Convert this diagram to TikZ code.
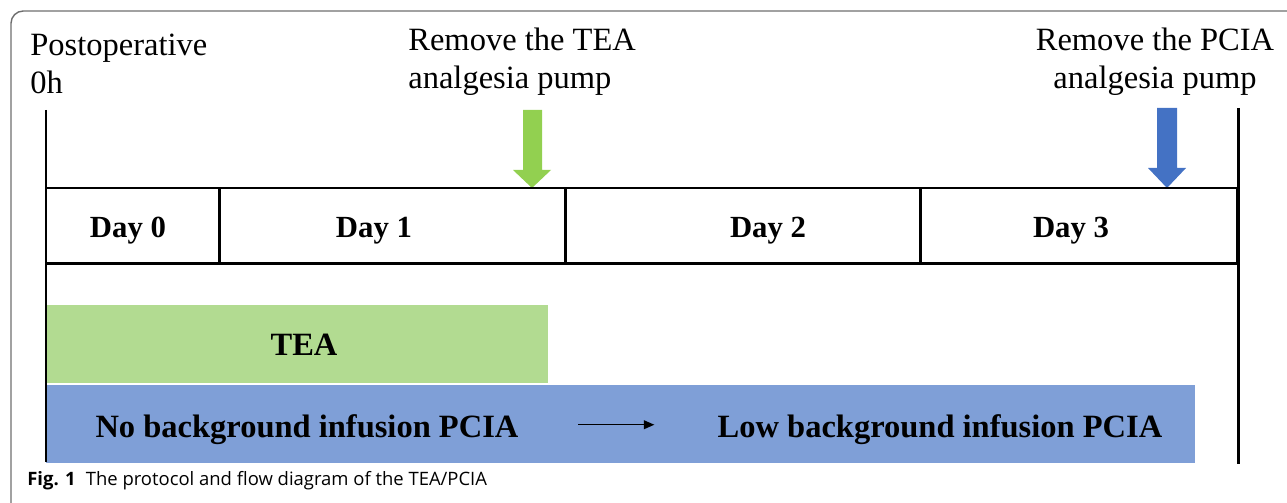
\documentclass[tikz,border=0pt]{standalone}
\usepackage{fontspec}
\setmainfont{Liberation Serif}
\newfontfamily\capfont{Open Sans}
\usetikzlibrary{arrows.meta,positioning}
\definecolor{teagreen}{HTML}{92D050}
\definecolor{pciablue}{HTML}{4472C4}
\definecolor{teapale}{HTML}{B2DB91}
\definecolor{pciapale}{HTML}{7F9FD7}
\definecolor{framegray}{HTML}{6E6E6E}
\tikzset{
  cell/.style={draw,line width=1.7pt,minimum height=1.52cm,inner sep=0pt,outer sep=0pt},
  daylab/.style={font=\fontsize{17.5}{20}\selectfont\bfseries},
  note/.style={align=center,inner sep=0pt,font=\fontsize{18.5}{21.6}\selectfont},
  bar/.style={anchor=north west,minimum height=1.56cm,inner sep=0pt,outer sep=0pt},
  bartext/.style={font=\fontsize{18.5}{21}\selectfont\bfseries},
  axis/.style={line width=1.7pt},
  thinarr/.style={-{Triangle[length=6pt,width=5pt]},line width=0.8pt}
}

\begin{document}
\begin{tikzpicture}[x=0.02cm,y=-0.02cm]
  \useasboundingbox (0,0) rectangle (1287,503);
  % frame
  \draw[framegray,line width=0.8pt,rounded corners=7pt] (11,503) -- (11,11) -- (1287,11);
  % notes above the time line
  \node[note,align=left,anchor=north west] (post) at (30,34) {Postoperative\\0h};
  \node[note,align=left,anchor=north west] (rmtea) at (408,28) {Remove the TEA\\analgesia pump};
  \node[note,anchor=north] (rmpcia) at (1155,28) {Remove the PCIA\\analgesia pump};
  % removal arrows
  \fill[teagreen] (523,110) -- (542,110) -- (542,170) -- (551,170) -- (532,188)
    -- (513,170) -- (523,170) -- cycle;
  \fill[pciablue] (1157,108) -- (1177,108) -- (1177,168) -- (1186,168) -- (1167,188)
    -- (1148,168) -- (1157,168) -- cycle;
  % days
  \node[cell,minimum width=3.48cm,anchor=north west] (c0) at (46,188) {};
  \node[cell,minimum width=6.92cm,right=0pt of c0] (c1) {};
  \node[cell,minimum width=7.10cm,right=0pt of c1] (c2) {};
  \node[cell,minimum width=6.34cm,right=0pt of c2] (c3) {};
  \node[daylab] (d0) at (128,231) {Day 0};
  \node[daylab] (d1) at (374,231) {Day 1};
  \node[daylab] (d2) at (768,231) {Day 2};
  \node[daylab] (d3) at (1071,231) {Day 3};
  % bars
  \node[bar,fill=teapale,minimum width=10.04cm] (teabar) at (46,305) {};
  \node[bartext] (tea) at (304,345) {TEA};
  \node[bar,fill=pciapale,minimum width=22.98cm] (pciabar) at (46,385) {};
  \node[bartext] (nobg) at (307,430) {No background infusion PCIA};
  \node[bartext] (lowbg) at (940,430) {Low background infusion PCIA};
  \draw[thinarr,shorten <=30.5pt,shorten >=32.5pt] ([yshift=3pt]nobg.east) -- ([yshift=3pt]lowbg.west);
  % start and end lines
  \draw[axis] (46,110) -- (46,462);
  \draw[axis] (1238,108) -- (1238,464);
  \node[anchor=base west,inner sep=0pt,font=\capfont\fontsize{10.5}{12}\selectfont] (cap) at (27,485)
    {\textbf{Fig. 1}\hspace{0.55em}The protocol and flow diagram of the TEA/PCIA};
\end{tikzpicture}
\end{document}
